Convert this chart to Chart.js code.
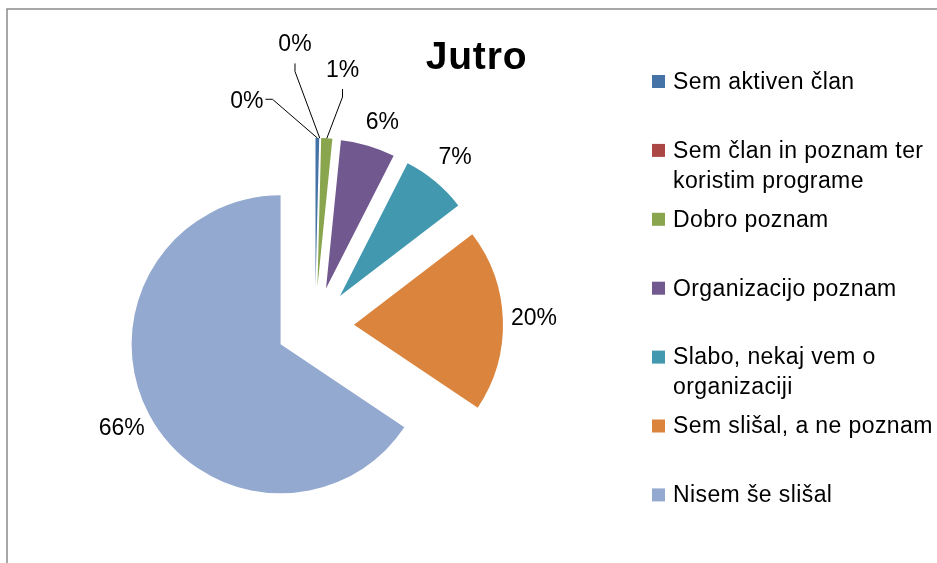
<!DOCTYPE html>
<html>
<head>
<meta charset="utf-8">
<title>Jutro</title>
<script src="https://cdn.jsdelivr.net/npm/chart.js@4.4.1/dist/chart.umd.min.js"></script>
<style>
  html, body { margin: 0; padding: 0; background: #fff; }
  canvas { display: block; }
</style>
</head>
<body>
<canvas id="jutro-chart" width="937" height="563"></canvas>
<script>
// data (percent of answers)
const categories = [
  "Sem aktiven član",
  "Sem član in poznam ter koristim programe",
  "Dobro poznam",
  "Organizacijo poznam",
  "Slabo, nekaj vem o organizaciji",
  "Sem slišal, a ne poznam",
  "Nisem še slišal"
];
const shares = [0.4, 0, 1.2, 5.9, 7.1, 19.8, 65.6];
const chartTitle = "Jutro";

const sliceColors = ['#4572A7', '#AA4643', '#89A54E', '#71588F', '#4198AF', '#DB843D', '#93A9CF'];

const FONT = '"Liberation Sans", Arial, sans-serif';
const EXPLODE = 39;

// labels that sit off the default spot; small slices get a leader line
const callouts = {
  0: { dist: 198, turn: -21, side: 'right' },
  1: { dist: 243, turn: -6.4, side: 'bottom' },
  2: { dist: 218, turn: 3, side: 'bottom' },
  3: { dist: 175, turn: 2.4 }
};

// gray frame round the chart (runs off right and bottom edge)
const framePlugin = {
  id: 'frame',
  beforeDraw(chart) {
    const ctx = chart.ctx;
    ctx.save();
    ctx.strokeStyle = '#8a8a8a';
    ctx.lineWidth = 1.5;
    ctx.beginPath();
    ctx.moveTo(7, chart.height);
    ctx.lineTo(7, 9);
    ctx.lineTo(chart.width, 9);
    ctx.stroke();
    ctx.restore();
  }
};

// move every slice out along its middle angle (Excel style explode)
const explodePlugin = {
  id: 'explode',
  afterDatasetUpdate(chart, args) {
    const meta = chart.getDatasetMeta(args.index);
    meta.data.forEach(arc => {
      const mid = (arc.startAngle + arc.endAngle) / 2;
      arc.x += Math.cos(mid) * EXPLODE;
      arc.y += Math.sin(mid) * EXPLODE;
    });
  }
};

const percentLabels = {
  id: 'percentLabels',
  afterDatasetsDraw(chart) {
    const ctx = chart.ctx;
    const meta = chart.getDatasetMeta(0);
    const values = chart.data.datasets[0].data;
    const total = values.reduce((a, b) => a + b, 0);
    ctx.save();
    ctx.font = '23px ' + FONT;
    ctx.fillStyle = '#000';
    ctx.textAlign = 'center';
    ctx.textBaseline = 'middle';
    meta.data.forEach((arc, i) => {
      const text = Math.round(values[i] / total * 100) + '%';
      const mid = (arc.startAngle + arc.endAngle) / 2;
      const r = arc.outerRadius;
      const c = callouts[i];
      const dist = c ? c.dist : r + 31;
      const ang = mid + (c ? c.turn : 0) * Math.PI / 180;
      const lx = arc.x + Math.cos(ang) * dist;
      const ly = arc.y + Math.sin(ang) * dist;
      if (c && c.side) {
        const w = ctx.measureText(text).width;
        const sx = arc.x + Math.cos(mid) * r;
        const sy = arc.y + Math.sin(mid) * r;
        let ex, ey, bx, by;
        if (c.side === 'right') {
          ex = lx + w / 2 + 2; ey = ly - 2;
          bx = ex + 7; by = ey;
        } else {
          ex = lx; ey = ly + 8.5 + 10;
          bx = ex; by = ey + 8;
        }
        ctx.strokeStyle = '#000';
        ctx.lineWidth = 1;
        ctx.beginPath();
        ctx.moveTo(sx, sy);
        ctx.lineTo(bx, by);
        ctx.lineTo(ex, ey);
        ctx.stroke();
      }
      ctx.fillText(text, lx, ly);
    });
    ctx.restore();
  }
};

function wrapText(ctx, text, maxWidth) {
  const words = text.split(' ');
  const lines = [];
  let line = '';
  words.forEach(w => {
    const test = line ? line + ' ' + w : w;
    if (line && ctx.measureText(test).width > maxWidth) {
      lines.push(line);
      line = w;
    } else {
      line = test;
    }
  });
  if (line) lines.push(line);
  return lines;
}

// title and legend drawn Excel-like at the right side
const titleAndLegend = {
  id: 'titleAndLegend',
  afterDraw(chart) {
    const ctx = chart.ctx;
    ctx.save();
    ctx.fillStyle = '#000';
    ctx.textBaseline = 'middle';

    ctx.font = 'bold 39px ' + FONT;
    ctx.textAlign = 'center';
    ctx.letterSpacing = '0.8px';
    ctx.fillText(chartTitle, 476.5, 58);

    ctx.font = '23px ' + FONT;
    ctx.textAlign = 'left';
    ctx.letterSpacing = '0.4px';
    const step = 68.9;
    chart.data.labels.forEach((label, i) => {
      const y = 82.5 + i * step;
      ctx.fillStyle = sliceColors[i];
      ctx.fillRect(652, y - 7.5, 13, 13);
      ctx.fillStyle = '#000';
      wrapText(ctx, label, 264).forEach((line, k) => {
        ctx.fillText(line, 673, y + k * 30);
      });
    });
    ctx.restore();
  }
};

const jutroCanvas = document.getElementById('jutro-chart');

let jutroChart = new Chart(jutroCanvas, {
  type: 'pie',
  data: {
    labels: categories,
    datasets: [{
      data: shares,
      backgroundColor: sliceColors,
      borderWidth: 0,
      radius: 149
    }]
  },
  options: {
    responsive: false,
    animation: false,
    layout: {
      padding: { left: 140, right: 447, top: 151, bottom: 62 }
    },
    plugins: {
      legend: { display: false },
      title: { display: false },
      tooltip: { enabled: false }
    }
  },
  plugins: [framePlugin, explodePlugin, percentLabels, titleAndLegend]
});
</script>
</body>
</html>
